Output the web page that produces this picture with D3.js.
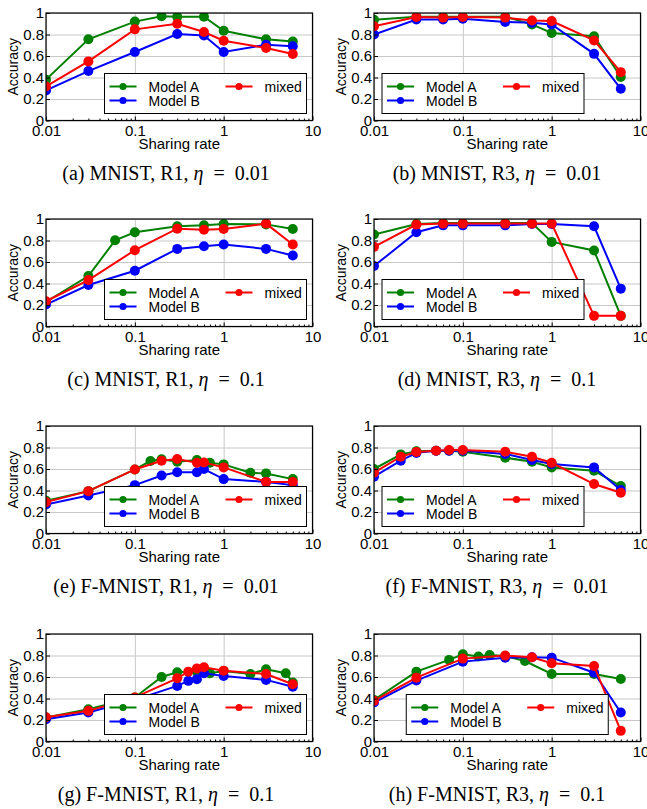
<!DOCTYPE html>
<html>
<head>
<meta charset="utf-8">
<title>Accuracy vs sharing rate</title>
<script src="https://d3js.org/d3.v7.min.js"></script>
<style>
body { margin: 0; background: #fff; }
text { font-family: "Liberation Sans", Arial, Helvetica, sans-serif; }
.caption { font-family: "Liberation Serif", "Times New Roman", serif; }
</style>
</head>
<body>
<div id="fig"></div>
<script>
// ---- data ----------------------------------------------------------
// (a) MNIST, R1, eta = 0.01
var a_rateA = [0.01, 0.03, 0.1, 0.2, 0.3, 0.6, 1, 3, 6];
var a_accA  = [0.38, 0.755, 0.92, 0.97, 0.965, 0.965, 0.835, 0.755, 0.735];
var a_rateB = [0.01, 0.03, 0.1, 0.3, 0.6, 1, 3, 6];
var a_accB  = [0.28, 0.46, 0.637, 0.804, 0.79, 0.637, 0.705, 0.69];
var a_rateM = [0.01, 0.03, 0.1, 0.3, 0.6, 1, 3, 6];
var a_accM  = [0.317, 0.55, 0.848, 0.90, 0.823, 0.742, 0.674, 0.618];

// (b) MNIST, R3, eta = 0.01
var b_rateA = [0.01, 0.03, 0.06, 0.1, 0.3, 0.6, 1, 3, 6];
var b_accA  = [0.938, 0.965, 0.965, 0.965, 0.965, 0.894, 0.814, 0.783, 0.404];
var b_rateB = [0.01, 0.03, 0.06, 0.1, 0.3, 0.6, 1, 3, 6];
var b_accB  = [0.80, 0.94, 0.94, 0.947, 0.916, 0.91, 0.894, 0.62, 0.295];
var b_rateM = [0.01, 0.03, 0.06, 0.1, 0.3, 0.6, 1, 3, 6];
var b_accM  = [0.876, 0.963, 0.957, 0.963, 0.957, 0.93, 0.925, 0.745, 0.45];

// (c) MNIST, R1, eta = 0.1
var c_rateA = [0.01, 0.03, 0.06, 0.1, 0.3, 0.6, 1, 3, 6];
var c_accA  = [0.228, 0.469, 0.802, 0.877, 0.932, 0.941, 0.954, 0.95, 0.907];
var c_rateB = [0.01, 0.03, 0.1, 0.3, 0.6, 1, 3, 6];
var c_accB  = [0.204, 0.386, 0.519, 0.722, 0.747, 0.762, 0.722, 0.66];
var c_rateM = [0.01, 0.03, 0.1, 0.3, 0.6, 1, 3, 6];
var c_accM  = [0.235, 0.432, 0.71, 0.91, 0.90, 0.907, 0.957, 0.762];

// (d) MNIST, R3, eta = 0.1
var d_rateA = [0.01, 0.03, 0.06, 0.1, 0.3, 0.6, 1, 3, 6];
var d_accA  = [0.855, 0.954, 0.963, 0.963, 0.963, 0.963, 0.787, 0.707, 0.099];
var d_rateB = [0.01, 0.03, 0.06, 0.1, 0.3, 0.6, 1, 3, 6];
var d_accB  = [0.562, 0.877, 0.941, 0.941, 0.941, 0.954, 0.954, 0.932, 0.352];
var d_rateM = [0.01, 0.03, 0.06, 0.1, 0.3, 0.6, 1, 3, 6];
var d_accM  = [0.741, 0.948, 0.957, 0.957, 0.957, 0.957, 0.957, 0.099, 0.099];

// (e) F-MNIST, R1, eta = 0.01
var e_rateA = [0.01, 0.03, 0.1, 0.15, 0.2, 0.3, 0.5, 0.7, 1, 2, 3, 6];
var e_accA  = [0.304, 0.394, 0.596, 0.674, 0.69, 0.668, 0.683, 0.658, 0.643, 0.565, 0.559, 0.506];
var e_rateB = [0.01, 0.03, 0.1, 0.2, 0.3, 0.5, 0.6, 1, 3, 6];
var e_accB  = [0.27, 0.354, 0.45, 0.54, 0.57, 0.57, 0.60, 0.506, 0.48, 0.45];
var e_rateM = [0.01, 0.03, 0.1, 0.2, 0.3, 0.5, 0.6, 1, 3, 6];
var e_accM  = [0.292, 0.394, 0.596, 0.677, 0.693, 0.658, 0.661, 0.615, 0.48, 0.48];

// (f) F-MNIST, R3, eta = 0.01
var f_rateA = [0.01, 0.02, 0.03, 0.05, 0.07, 0.1, 0.3, 0.6, 1, 3, 6];
var f_accA  = [0.60, 0.736, 0.765, 0.77, 0.77, 0.76, 0.705, 0.668, 0.615, 0.584, 0.441];
var f_rateB = [0.01, 0.02, 0.03, 0.05, 0.07, 0.1, 0.3, 0.6, 1, 3, 6];
var f_accB  = [0.528, 0.677, 0.75, 0.77, 0.77, 0.77, 0.74, 0.683, 0.646, 0.615, 0.404];
var f_rateM = [0.01, 0.02, 0.03, 0.05, 0.07, 0.1, 0.3, 0.6, 1, 3, 6];
var f_accM  = [0.565, 0.714, 0.758, 0.77, 0.776, 0.776, 0.76, 0.714, 0.658, 0.46, 0.379];

// (g) F-MNIST, R1, eta = 0.1
var g_rateA = [0.01, 0.03, 0.1, 0.2, 0.3, 0.5, 0.7, 1, 2, 3, 5, 6];
var g_accA  = [0.223, 0.30, 0.41, 0.60, 0.644, 0.65, 0.635, 0.656, 0.628, 0.672, 0.635, 0.548];
var g_rateB = [0.01, 0.03, 0.1, 0.3, 0.4, 0.5, 0.6, 1, 3, 6];
var g_accB  = [0.207, 0.27, 0.387, 0.517, 0.564, 0.58, 0.635, 0.61, 0.573, 0.51];
var g_rateM = [0.01, 0.03, 0.1, 0.3, 0.4, 0.5, 0.6, 1, 3, 6];
var g_accM  = [0.226, 0.285, 0.41, 0.588, 0.65, 0.68, 0.69, 0.659, 0.628, 0.533];

// (h) F-MNIST, R3, eta = 0.1
var h_rateA = [0.01, 0.03, 0.07, 0.1, 0.15, 0.2, 0.3, 0.5, 1, 3, 6];
var h_accA  = [0.387, 0.65, 0.759, 0.811, 0.79, 0.805, 0.796, 0.749, 0.628, 0.628, 0.582];
var h_rateB = [0.01, 0.03, 0.1, 0.3, 0.6, 1, 3, 6];
var h_accB  = [0.362, 0.567, 0.743, 0.78, 0.783, 0.78, 0.64, 0.27];
var h_rateM = [0.01, 0.03, 0.1, 0.3, 0.6, 1, 3, 6];
var h_accM  = [0.378, 0.594, 0.771, 0.799, 0.783, 0.728, 0.703, 0.099];

var seriesNames = ["Model A", "Model B", "mixed"];
var xTicks = [0.01, 0.1, 1, 10];
var yTicks = [0, 0.2, 0.4, 0.6, 0.8, 1];
var captions = [
    ["(a) MNIST, R1, ", "0.01"], ["(b) MNIST, R3, ", "0.01"],
    ["(c) MNIST, R1, ", "0.1"],  ["(d) MNIST, R3, ", "0.1"],
    ["(e) F-MNIST, R1, ", "0.01"], ["(f) F-MNIST, R3, ", "0.01"],
    ["(g) F-MNIST, R1, ", "0.1"],  ["(h) F-MNIST, R3, ", "0.1"]
];

// ---- layout ----------------------------------------------------------
var colors = ["#008000", "#0000ff", "#ff0000"];
var colX = [46, 374];
var rowY = [13, 219, 426, 634];
var pw = 266.5, ph = 107.5;
var capX = [166, 497];
var legendPos = ["lr", "ll", "lr", "ll", "lr", "ll", "lr", "lc"];

function pts(r, a) { return r.map(function(v, i) { return {x: v, y: a[i]}; }); }

var panels = [
    [pts(a_rateA, a_accA), pts(a_rateB, a_accB), pts(a_rateM, a_accM)],
    [pts(b_rateA, b_accA), pts(b_rateB, b_accB), pts(b_rateM, b_accM)],
    [pts(c_rateA, c_accA), pts(c_rateB, c_accB), pts(c_rateM, c_accM)],
    [pts(d_rateA, d_accA), pts(d_rateB, d_accB), pts(d_rateM, d_accM)],
    [pts(e_rateA, e_accA), pts(e_rateB, e_accB), pts(e_rateM, e_accM)],
    [pts(f_rateA, f_accA), pts(f_rateB, f_accB), pts(f_rateM, f_accM)],
    [pts(g_rateA, g_accA), pts(g_rateB, g_accB), pts(g_rateM, g_accM)],
    [pts(h_rateA, h_accA), pts(h_rateB, h_accB), pts(h_rateM, h_accM)]
];

var svg = d3.select("#fig").append("svg")
    .attr("width", 647)
    .attr("height", 809);

var minorTicks = [];
[0.01, 0.1, 1].forEach(function(d) {
    for (var k = 2; k <= 9; k++) minorTicks.push(d * k);
});

panels.forEach(function(series, p) {
    var col = p % 2, row = Math.floor(p / 2);
    var x = d3.scaleLog().domain([0.01, 10]).range([0, pw]);
    var y = d3.scaleLinear().domain([0, 1]).range([ph, 0]);

    var g = svg.append("g")
        .attr("transform", "translate(" + colX[col] + "," + rowY[row] + ")");

    // grid
    g.append("g")
        .attr("transform", "translate(0," + ph + ")")
        .call(d3.axisBottom(x).tickValues(xTicks).tickSize(-ph).tickFormat(""))
        .call(function(s) { s.select(".domain").remove(); s.selectAll("line").attr("stroke", "#c8c8c8"); });
    g.append("g")
        .call(d3.axisLeft(y).tickValues(yTicks).tickSize(-pw).tickFormat(""))
        .call(function(s) { s.select(".domain").remove(); s.selectAll("line").attr("stroke", "#c8c8c8"); });

    // clipped lines and markers
    var clipId = "clip" + p;
    g.append("clipPath").attr("id", clipId)
        .append("rect").attr("width", pw).attr("height", ph);
    var plot = g.append("g").attr("clip-path", "url(#" + clipId + ")");

    var line = d3.line()
        .x(function(d) { return x(d.x); })
        .y(function(d) { return y(d.y); });

    series.forEach(function(data, i) {
        plot.append("path")
            .datum(data)
            .attr("fill", "none")
            .attr("stroke", colors[i])
            .attr("stroke-width", 2)
            .attr("d", line);
        plot.selectAll(".m" + i)
            .data(data)
            .enter()
            .append("circle")
            .attr("class", "m" + i)
            .attr("cx", function(d) { return x(d.x); })
            .attr("cy", function(d) { return y(d.y); })
            .attr("r", 5)
            .attr("fill", colors[i]);
    });

    // frame
    g.append("rect")
        .attr("width", pw).attr("height", ph)
        .attr("fill", "none").attr("stroke", "#000").attr("stroke-width", 1.2);

    // axes (ticks pointing inward)
    var xa = g.append("g")
        .attr("transform", "translate(0," + ph + ")")
        .call(d3.axisBottom(x).tickValues(xTicks).tickSize(-4).tickPadding(6)
            .tickFormat(function(d) { return d3.format("~g")(d); }));
    xa.select(".domain").remove();
    xa.selectAll("text").attr("font-size", "15px").attr("fill", "#000")
        .attr("y", 5).attr("dy", "0.71em");
    g.append("g")
        .attr("transform", "translate(0," + ph + ")")
        .call(d3.axisBottom(x).tickValues(minorTicks).tickSize(-2).tickFormat(""))
        .select(".domain").remove();

    var ya = g.append("g")
        .call(d3.axisLeft(y).tickValues(yTicks).tickSize(-4).tickPadding(2)
            .tickFormat(function(d) { return d3.format("~g")(d); }));
    ya.select(".domain").remove();
    ya.selectAll("text").attr("font-size", "15px").attr("fill", "#000").attr("x", -2);

    // axis labels
    g.append("text")
        .attr("x", pw / 2).attr("y", ph + 28)
        .attr("text-anchor", "middle")
        .attr("font-size", "15px")
        .text("Sharing rate");
    g.append("text")
        .attr("transform", "translate(-28," + (ph / 2) + ") rotate(-90)")
        .attr("text-anchor", "middle")
        .attr("font-size", "14px")
        .text("Accuracy");

    // legend
    var lw = 202, lh = 40;
    var lx = legendPos[p] === "lr" ? pw - 6 - lw : legendPos[p] === "ll" ? 8 : (pw - lw) / 2;
    var ly = ph - 7 - lh;
    var leg = g.append("g").attr("transform", "translate(" + lx + "," + ly + ")");
    leg.append("rect")
        .attr("width", lw).attr("height", lh)
        .attr("fill", "#fff").attr("stroke", "#000").attr("stroke-width", 1);
    var slots = [[5, 13], [5, 27], [121, 13]];
    seriesNames.forEach(function(name, i) {
        var s = slots[i];
        leg.append("line")
            .attr("x1", s[0]).attr("x2", s[0] + 27)
            .attr("y1", s[1]).attr("y2", s[1])
            .attr("stroke", colors[i]).attr("stroke-width", 2);
        leg.append("circle")
            .attr("cx", s[0] + 13.5).attr("cy", s[1]).attr("r", 3.6)
            .attr("fill", colors[i]);
        leg.append("text")
            .attr("x", s[0] + 39).attr("y", s[1])
            .attr("dy", "0.36em")
            .attr("font-size", "14px")
            .text(name);
    });

    // caption
    var cap = svg.append("text")
        .attr("class", "caption")
        .attr("x", capX[col]).attr("y", rowY[row] + ph + 59)
        .attr("text-anchor", "middle")
        .attr("font-size", "20px");
    cap.append("tspan").text(captions[p][0]);
    cap.append("tspan").attr("font-style", "italic").text("\u03b7");
    cap.append("tspan").attr("dx", 10).text("=");
    cap.append("tspan").attr("dx", 10).text(captions[p][1]);
});
</script>
</body>
</html>
